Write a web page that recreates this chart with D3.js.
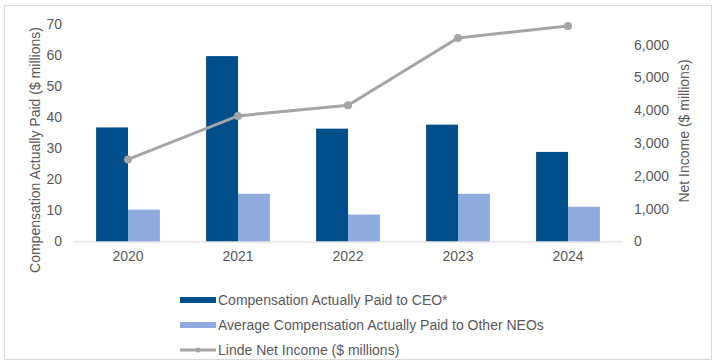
<!DOCTYPE html>
<html>
<head>
<meta charset="utf-8">
<script src="https://cdn.jsdelivr.net/npm/d3@7"></script>
<style>
  body { margin: 0; background: #fff; }
  text { font-family: "Liberation Sans", Arial, sans-serif; fill: #595959; }
</style>
</head>
<body>
<div id="chart"></div>
<script>
const years = ["2020", "2021", "2022", "2023", "2024"];
const ceoPay = [36.8, 59.8, 36.4, 37.7, 28.9];
const neoPay = [10.3, 15.4, 8.7, 15.4, 11.2];
const netIncome = [2501, 3826, 4147, 6199, 6565];
const leftTicks = [0, 10, 20, 30, 40, 50, 60, 70];
const rightTicks = [0, 1000, 2000, 3000, 4000, 5000, 6000];

const width = 716, height = 363;
const plot = { left: 73, right: 623, top: 24.5, bottom: 241.5 };
const fontSize = 14;

let svg = d3
  .select("#chart")
  .append("svg")
  .attr("width", width)
  .attr("height", height);

// outer frame
svg
  .append("rect")
  .attr("x", 4.5)
  .attr("y", 5.5)
  .attr("width", 707)
  .attr("height", 354)
  .attr("fill", "none")
  .attr("stroke", "#d9d9d9");

let x = d3.scaleBand().domain(years).range([plot.left, plot.right]).paddingInner(0.42).paddingOuter(0.21);
let xInner = d3.scaleBand().domain(["ceo", "neo"]).range([0, x.bandwidth()]);
let yLeft = d3.scaleLinear().domain([0, 70]).range([plot.bottom, plot.top]);
let yRight = d3.scaleLinear().domain([0, 6610]).range([plot.bottom, plot.top]);

// bars
let groups = svg
  .selectAll("g.year")
  .data(years)
  .join("g")
  .attr("class", "year")
  .attr("transform", d => `translate(${x(d)},0)`);

groups
  .append("rect")
  .attr("x", xInner("ceo"))
  .attr("width", xInner.bandwidth())
  .attr("y", (d, i) => yLeft(ceoPay[i]))
  .attr("height", (d, i) => yLeft(0) - yLeft(ceoPay[i]))
  .attr("fill", "#004f8a");

groups
  .append("rect")
  .attr("x", xInner("neo"))
  .attr("width", xInner.bandwidth())
  .attr("y", (d, i) => yLeft(neoPay[i]))
  .attr("height", (d, i) => yLeft(0) - yLeft(neoPay[i]))
  .attr("fill", "#8faadc");

// x axis
let xAxis = svg
  .append("g")
  .attr("transform", `translate(0,${plot.bottom})`)
  .call(d3.axisBottom(x).tickSize(0).tickPadding(10));
xAxis.select(".domain").attr("stroke", "#d9d9d9").attr("d", `M${plot.left},0.5H${plot.right}`);
xAxis.selectAll("text").attr("font-size", fontSize).attr("fill", "#595959");

// left axis
let leftAxis = svg
  .append("g")
  .attr("transform", `translate(${plot.left},0)`)
  .call(d3.axisLeft(yLeft).tickValues(leftTicks).tickSize(0).tickPadding(11));
leftAxis.select(".domain").remove();
leftAxis.selectAll("text").attr("font-size", fontSize).attr("fill", "#595959");

// right axis
let rightAxis = svg
  .append("g")
  .attr("transform", `translate(${plot.right},0)`)
  .call(d3.axisRight(yRight).tickValues(rightTicks).tickSize(0).tickPadding(11).tickFormat(d3.format(",")));
rightAxis.select(".domain").remove();
rightAxis.selectAll("text").attr("font-size", fontSize).attr("fill", "#595959");

// axis titles
svg
  .append("text")
  .attr("transform", "translate(40,150) rotate(-90)")
  .attr("text-anchor", "middle")
  .attr("font-size", fontSize)
  .text("Compensation Actually Paid ($ millions)");

svg
  .append("text")
  .attr("transform", "translate(689,131) rotate(-90)")
  .attr("text-anchor", "middle")
  .attr("font-size", fontSize)
  .text("Net Income ($ millions)");

// net income line
let line = d3
  .line()
  .x((d, i) => x(years[i]) + x.bandwidth() / 2)
  .y(d => yRight(d));

svg
  .append("path")
  .datum(netIncome)
  .attr("d", line)
  .attr("fill", "none")
  .attr("stroke", "#a5a5a5")
  .attr("stroke-width", 3);

svg
  .selectAll("circle.pt")
  .data(netIncome)
  .join("circle")
  .attr("class", "pt")
  .attr("cx", (d, i) => x(years[i]) + x.bandwidth() / 2)
  .attr("cy", d => yRight(d))
  .attr("r", 4)
  .attr("fill", "#a5a5a5");

// legend
const legendItems = [
  { label: "Compensation Actually Paid to CEO*", color: "#004f8a", type: "bar" },
  { label: "Average Compensation Actually Paid to Other NEOs", color: "#8faadc", type: "bar" },
  { label: "Linde Net Income ($ millions)", color: "#a5a5a5", type: "line" }
];

let legend = svg
  .selectAll("g.legend")
  .data(legendItems)
  .join("g")
  .attr("class", "legend")
  .attr("transform", (d, i) => `translate(180,${300 + i * 25})`);

legend
  .filter(d => d.type === "bar")
  .append("rect")
  .attr("x", 0)
  .attr("y", -3)
  .attr("width", 36)
  .attr("height", 6)
  .attr("fill", d => d.color);

legend
  .filter(d => d.type === "line")
  .append("line")
  .attr("x1", 0)
  .attr("x2", 36)
  .attr("stroke", d => d.color)
  .attr("stroke-width", 3);

legend
  .filter(d => d.type === "line")
  .append("circle")
  .attr("cx", 18)
  .attr("r", 2.5)
  .attr("fill", d => d.color);

legend
  .append("text")
  .attr("x", 38)
  .attr("dy", "0.35em")
  .attr("font-size", fontSize)
  .text(d => d.label);
</script>
</body>
</html>
